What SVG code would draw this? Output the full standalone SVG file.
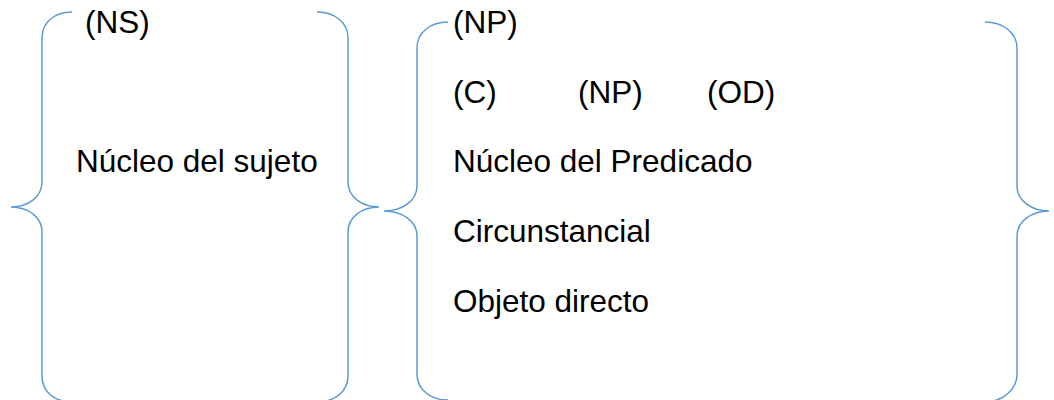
<svg xmlns="http://www.w3.org/2000/svg" width="1054" height="400" viewBox="0 0 1054 400">
<style>
.br{fill:none;stroke:#5B9BD5;stroke-width:1.5}
.t{font-family:"Liberation Sans",Arial,sans-serif;font-size:31.5px;fill:#000}
</style>
<rect width="1054" height="400" fill="#fff"/>
<g id="connectors">
<path class="br" d="M72,12 C55,12 42,22 42,38 L42,182 C42,197 28,207 11,207 C28,207 42,217 42,232 L42,376 C42,392 55,402 72,402"/>
<path class="br" d="M317,12 C334,12 348,22 348,38 L348,182 C348,197 362,207 379,207 C362,207 348,217 348,232 L348,376 C348,392 334,402 317,402"/>
<path class="br" d="M448,22 C431,22 417,32 417,48 L417,186 C417,201 402,211 384,211 C402,211 417,221 417,236 L417,374 C417,390 431,400 448,400"/>
<path class="br" d="M985,22 C1002,22 1017,32 1017,48 L1017,186 C1017,201 1032,211 1049,211 C1032,211 1017,221 1017,236 L1017,374 C1017,390 1002,402 985,402"/>
</g>
<g id="sujeto">
<text class="t" x="85" y="33">(NS)</text>
<text class="t" x="76" y="172">Núcleo del sujeto</text>
</g>
<g id="predicado">
<text class="t" x="453" y="33">(NP)</text>
<text class="t" x="453" y="103">(C)</text>
<text class="t" x="578" y="103">(NP)</text>
<text class="t" x="707" y="103">(OD)</text>
<text class="t" x="453" y="172">Núcleo del Predicado</text>
<text class="t" x="453" y="242">Circunstancial</text>
<text class="t" x="453" y="312">Objeto directo</text>
</g>
</svg>
